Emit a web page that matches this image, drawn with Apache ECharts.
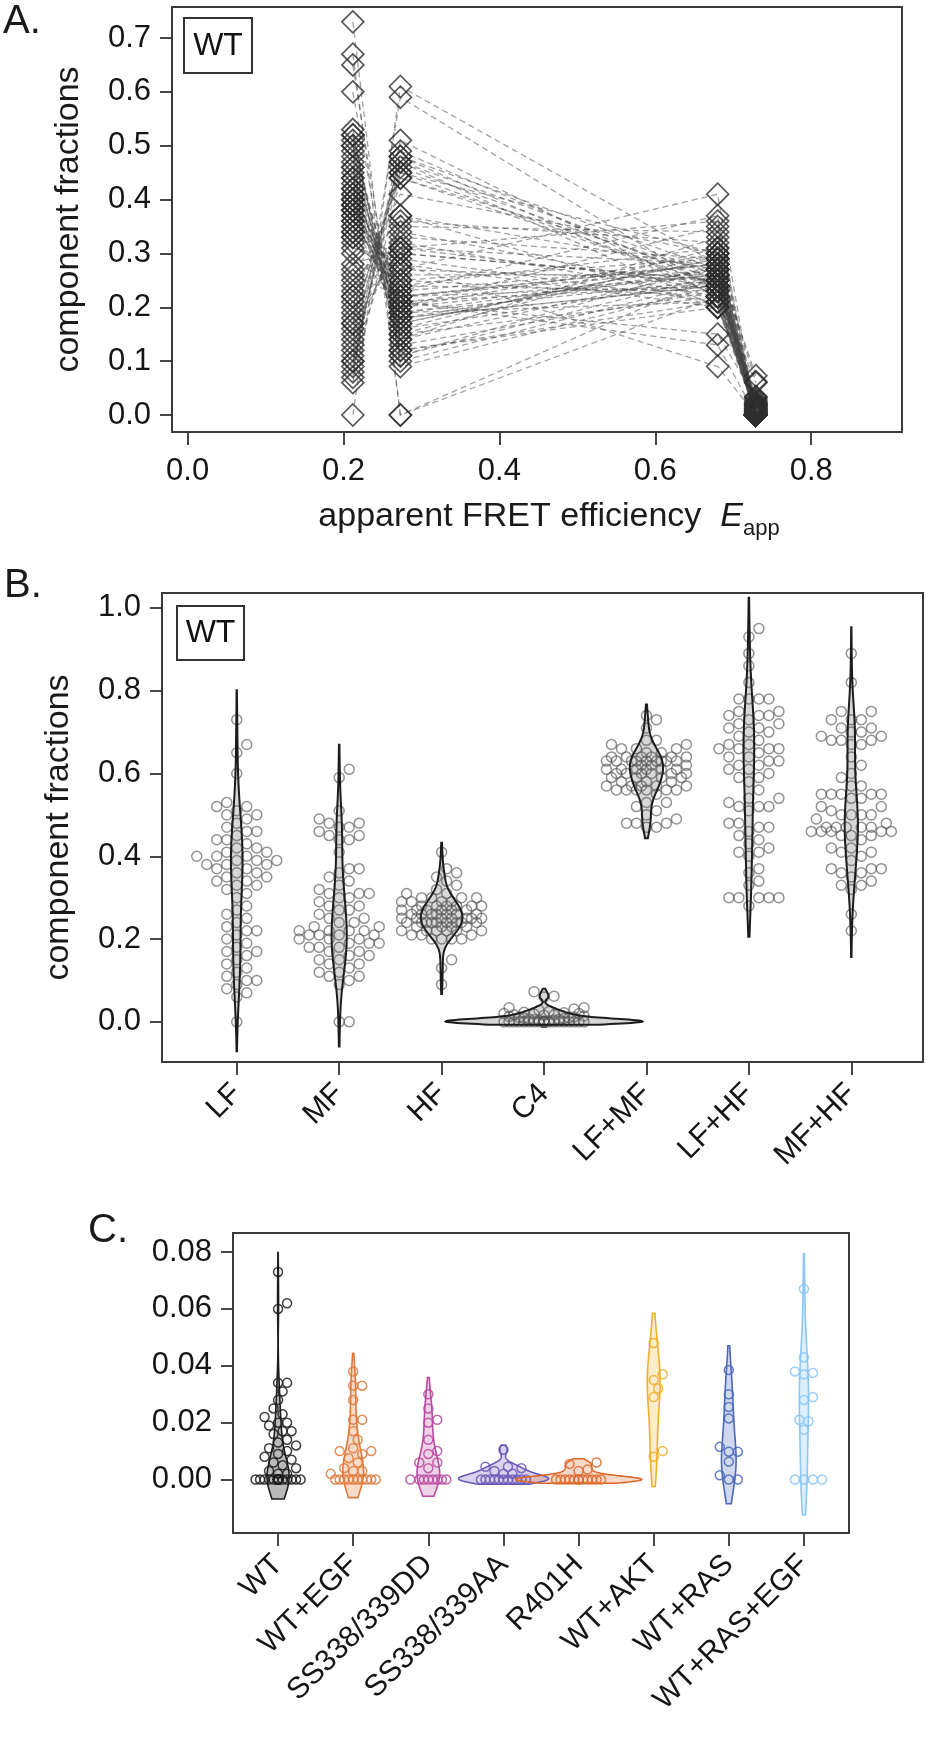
<!DOCTYPE html>
<html>
<head>
<meta charset="utf-8">
<script src="https://cdn.jsdelivr.net/npm/echarts@6/dist/echarts.min.js"></script>
<style>
html, body { margin: 0; padding: 0; background: #fff; }
#main { width: 927px; height: 1741px; }
</style>
</head>
<body>
<div id="main"></div>
<script>
// apparent FRET efficiency of the four components (LF, MF, HF, C4)
var eApp = [0.212, 0.273, 0.680, 0.729];

// per-molecule component fractions (WT)
var lf = [0.73, 0.67, 0.65, 0.60, 0.53, 0.52, 0.52, 0.51, 0.50, 0.50,
          0.49, 0.48, 0.47, 0.46, 0.46, 0.45, 0.44, 0.44, 0.43, 0.42,
          0.42, 0.41, 0.41, 0.40, 0.40, 0.40, 0.39, 0.39, 0.39, 0.38,
          0.38, 0.38, 0.37, 0.37, 0.36, 0.36, 0.35, 0.35, 0.34, 0.34,
          0.33, 0.33, 0.32, 0.31, 0.30, 0.28, 0.27, 0.26, 0.25, 0.24,
          0.23, 0.22, 0.22, 0.21, 0.20, 0.19, 0.18, 0.17, 0.17, 0.16,
          0.15, 0.14, 0.13, 0.12, 0.11, 0.10, 0.10, 0.09, 0.08, 0.07,
          0.06, 0.00];
var mf = [0.00, 0.00, 0.09, 0.11, 0.10, 0.15, 0.12, 0.14, 0.18, 0.11,
          0.13, 0.20, 0.16, 0.12, 0.19, 0.17, 0.15, 0.22, 0.18, 0.14,
          0.21, 0.19, 0.23, 0.16, 0.20, 0.24, 0.18, 0.21, 0.27, 0.17,
          0.22, 0.25, 0.20, 0.26, 0.22, 0.28, 0.21, 0.24, 0.19, 0.27,
          0.23, 0.30, 0.25, 0.29, 0.21, 0.31, 0.36, 0.22, 0.32, 0.37,
          0.30, 0.41, 0.34, 0.28, 0.44, 0.33, 0.45, 0.31, 0.47, 0.31,
          0.46, 0.48, 0.35, 0.48, 0.45, 0.37, 0.47, 0.49, 0.51, 0.59,
          0.44, 0.61];
var hf = [0.22, 0.26, 0.24, 0.26, 0.25, 0.30, 0.21, 0.27, 0.24, 0.28,
          0.23, 0.26, 0.31, 0.20, 0.25, 0.29, 0.22, 0.27, 0.24, 0.33,
          0.26, 0.21, 0.28, 0.25, 0.30, 0.23, 0.27, 0.15, 0.25, 0.29,
          0.24, 0.22, 0.35, 0.26, 0.28, 0.20, 0.24, 0.31, 0.27, 0.41,
          0.37, 0.25, 0.29, 0.21, 0.13, 0.24, 0.32, 0.28, 0.22, 0.27,
          0.25, 0.30, 0.23, 0.09, 0.26, 0.29, 0.24, 0.36, 0.20, 0.28,
          0.25, 0.27, 0.34, 0.22, 0.30, 0.20, 0.26, 0.24, 0.22, 0.23,
          0.24, 0.28];
var c4 = [0, 0.012, 0, 0.002, 0, 0.020, 0, 0, 0.034, 0,
          0.005, 0, 0, 0.017, 0, 0.062, 0, 0, 0.009, 0,
          0.023, 0, 0.002, 0, 0.014, 0, 0, 0.031, 0, 0.007,
          0, 0.019, 0, 0, 0.073, 0, 0.011, 0, 0.025, 0,
          0, 0.016, 0, 0.004, 0, 0.028, 0, 0.010, 0, 0.020,
          0, 0, 0.060, 0, 0.013, 0, 0.003, 0, 0.034, 0,
          0.017, 0, 0.006, 0, 0, 0.022, 0, 0.008, 0, 0,
          0, 0];

// panel C: C4 fraction per construct
var c4WtEgf = [0.038, 0.033, 0.033, 0.028, 0.021, 0.021, 0.017, 0.014, 0.011, 0.010,
               0.010, 0.009, 0.0075, 0.006, 0.004, 0.003, 0.003, 0.002,
               0, 0, 0, 0, 0, 0, 0, 0, 0, 0];
var c4DD = [0.030, 0.025, 0.021, 0.020, 0.014, 0.010, 0.009, 0.006, 0.006, 0.004,
            0, 0, 0, 0, 0, 0, 0, 0];
var c4AA = [0.0105, 0.0045, 0.0045, 0.004, 0.003, 0.002, 0.002,
            0, 0, 0, 0, 0, 0, 0, 0, 0, 0, 0];
var c4R401H = [0.006, 0.0055, 0.0035, 0.003, 0, 0, 0, 0, 0, 0, 0, 0, 0, 0, 0, 0];
var c4Akt = [0.048, 0.037, 0.035, 0.032, 0.029, 0.010, 0.008];
var c4Ras = [0.0385, 0.030, 0.0255, 0.0215, 0.0115, 0.0098, 0.0098, 0.0063, 0.0015, 0, 0];
var c4RasEgf = [0.067, 0.043, 0.038, 0.0375, 0.037, 0.029, 0.028, 0.021, 0.0205, 0.0175,
                0, 0, 0, 0];

var catB = ["LF", "MF", "HF", "C4", "LF+MF", "LF+HF", "MF+HF"];
var catC = ["WT", "WT+EGF", "SS338/339DD", "SS338/339AA", "R401H", "WT+AKT", "WT+RAS", "WT+RAS+EGF"];

var ticksAx = [0, 0.2, 0.4, 0.6, 0.8];
var ticksAy = [0, 0.1, 0.2, 0.3, 0.4, 0.5, 0.6, 0.7];
var ticksBy = [0, 0.2, 0.4, 0.6, 0.8, 1.0];
var ticksCy = [0, 0.02, 0.04, 0.06, 0.08];

var colC = ["#1c1c1c", "#e07a3c", "#b94aa0", "#6c58b8", "#dc6a2c", "#eeb02c", "#4a67bc", "#8cc6f2"];
var fillC = ["rgba(100,100,100,0.45)", "rgba(236,150,100,0.35)", "rgba(200,110,180,0.3)",
             "rgba(130,110,200,0.3)", "rgba(230,130,80,0.3)", "rgba(245,200,100,0.35)",
             "rgba(100,125,200,0.3)", "rgba(160,210,245,0.35)"];

function sumOf(a, b) {
    return a.map(function(v, i) { return +(v + b[i]).toFixed(4); });
}
var groupsB = [lf, mf, hf, c4, sumOf(lf, mf), sumOf(lf, hf), sumOf(mf, hf)];
var groupsC = [c4, c4WtEgf, c4DD, c4AA, c4R401H, c4Akt, c4Ras, c4RasEgf];

// layout
var FONT = "Liberation Sans";
var gA = { left: 172, top: 7, width: 730, height: 425, xmin: -0.02, xmax: 0.9165, ymin: -0.0316, ymax: 0.7576 };
var gB = { left: 162, top: 593, width: 761, height: 469, xmin: 0.27, xmax: 7.7, ymin: -0.097, ymax: 1.036 };
var gC = { left: 233, top: 1233, width: 616, height: 300, xmin: 0.4, xmax: 8.6, ymin: -0.0188, ymax: 0.0867 };

// gaussian kernel density, Scott bandwidth, extended one bandwidth past the data
function kde(vals) {
    var n = vals.length;
    var mean = vals.reduce(function(a, b) { return a + b; }, 0) / n;
    var sd = Math.sqrt(vals.reduce(function(a, b) { return a + (b - mean) * (b - mean); }, 0) / (n - 1));
    var bw = 1.06 * sd * Math.pow(n, -0.2);
    var lo = Math.min.apply(null, vals) - bw, hi = Math.max.apply(null, vals) + bw;
    var pts = [];
    for (var k = 0; k <= 120; k++) {
        var y = lo + (hi - lo) * k / 120, d = 0;
        for (var i = 0; i < n; i++) {
            var u = (y - vals[i]) / bw;
            d += Math.exp(-0.5 * u * u);
        }
        pts.push([y, d / (n * bw * Math.sqrt(2 * Math.PI))]);
    }
    return pts;
}

// simple beeswarm: offsets in px, points sorted by value
function swarm(vals, pxY, d, maxHalf) {
    var order = vals.map(function(v, i) { return i; }).sort(function(a, b) { return vals[a] - vals[b]; });
    var placed = [], out = [];
    var step = d / 2, kMax = Math.floor(maxHalf / step);
    order.forEach(function(i) {
        var y = vals[i] * pxY, best = 0, bestGap = -1;
        for (var k = 0; k <= 2 * kMax; k++) {
            var cand = (k % 2 ? 1 : -1) * Math.ceil(k / 2) * step;
            var gap = Infinity;
            for (var j = 0; j < placed.length; j++) {
                var dx = placed[j][0] - cand, dy = placed[j][1] - y;
                if (Math.abs(dy) < d) gap = Math.min(gap, Math.sqrt(dx * dx + dy * dy));
            }
            if (gap >= d) { best = cand; break; }
            if (gap > bestGap) { bestGap = gap; best = cand; }
        }
        placed.push([best, y]);
        out[i] = best;
    });
    return out;
}

function pointData(groups, g, d, maxHalf, colors) {
    var pxY = g.height / (g.ymax - g.ymin), pxX = g.width / (g.xmax - g.xmin);
    var data = [];
    groups.forEach(function(vals, gi) {
        var off = swarm(vals, pxY, d, maxHalf);
        vals.forEach(function(v, i) {
            var item = { value: [gi + 1 + off[i] / pxX, v] };
            if (colors) item.itemStyle = { borderColor: colors[gi] };
            data.push(item);
        });
    });
    return data;
}

function violinSeries(groups, idx, widthPerDens, fills, strokes, lw, part, z) {
    var shapes = groups.map(kde);
    return {
        type: "custom", xAxisIndex: idx, yAxisIndex: idx, z: z, silent: true,
        data: groups.map(function(v, i) { return [i + 1, i]; }),
        renderItem: function(params, api) {
            var xc = api.value(0), gi = api.value(1), s = shapes[gi];
            var right = s.map(function(p) { return api.coord([xc + p[1] * widthPerDens, p[0]]); });
            var left = s.slice().reverse().map(function(p) { return api.coord([xc - p[1] * widthPerDens, p[0]]); });
            return {
                type: "polygon",
                shape: { points: right.concat(left) },
                style: part === "fill"
                    ? { fill: fills[gi], stroke: null }
                    : { fill: null, stroke: strokes[gi], lineWidth: lw }
            };
        }
    };
}

function yAxisOf(idx, g, ticks, digits, name) {
    return {
        type: "value", gridIndex: idx, min: g.ymin, max: g.ymax,
        name: name || "", nameLocation: "middle", nameGap: 86, nameRotate: 90,
        nameTextStyle: { fontSize: 34, color: "#1a1a1a", fontFamily: FONT },
        axisLine: { show: false, onZero: false },
        splitLine: { show: false },
        axisTick: { show: true, inside: false, length: 12, customValues: ticks,
                    lineStyle: { color: "#333", width: 1.8 } },
        axisLabel: { customValues: ticks, margin: 21, fontSize: 31, color: "#151515", fontFamily: FONT,
                     formatter: function(v) { return v.toFixed(digits); } }
    };
}

function catAxisOf(idx, g, cats) {
    var vals = cats.map(function(c, i) { return i + 1; });
    return {
        type: "value", gridIndex: idx, min: g.xmin, max: g.xmax,
        axisLine: { show: false, onZero: false },
        splitLine: { show: false },
        axisTick: { show: true, inside: false, length: 13, customValues: vals,
                    lineStyle: { color: "#333", width: 1.8 } },
        axisLabel: { customValues: vals, rotate: 45, margin: 27, fontSize: 30, color: "#151515", fontFamily: FONT,
                     formatter: function(v) { return cats[Math.round(v) - 1]; } }
    };
}

function gridOf(g) {
    return { left: g.left, top: g.top, width: g.width, height: g.height,
             show: true, borderColor: "#3a3a3a", borderWidth: 2, backgroundColor: "transparent" };
}

var chart = echarts.init(document.getElementById("main"), null, { renderer: "canvas" });

var diamonds = [];
[lf, mf, hf, c4].forEach(function(arr, k) {
    arr.forEach(function(v) { diamonds.push([eApp[k], v]); });
});

var option = {
    animation: false,
    backgroundColor: "#fff",
    textStyle: { fontFamily: FONT },
    grid: [gridOf(gA), gridOf(gB), gridOf(gC)],
    xAxis: [
        {
            type: "value", gridIndex: 0, min: gA.xmin, max: gA.xmax,
            name: "{a|apparent FRET efficiency  }{e|E}{s|app}",
            nameLocation: "middle", nameGap: 62,
            nameTextStyle: {
                fontFamily: FONT, color: "#1a1a1a", padding: [0, 0, 0, 24],
                rich: {
                    a: { fontSize: 34, fontFamily: FONT, color: "#1a1a1a", verticalAlign: "middle" },
                    e: { fontSize: 34, fontFamily: FONT, color: "#1a1a1a", fontStyle: "italic", verticalAlign: "middle" },
                    s: { fontSize: 22, fontFamily: FONT, color: "#1a1a1a", verticalAlign: "middle", padding: [24, 0, 0, 0] }
                }
            },
            axisLine: { show: false, onZero: false },
            splitLine: { show: false },
            axisTick: { show: true, inside: false, length: 13, customValues: ticksAx,
                        lineStyle: { color: "#333", width: 1.8 } },
            axisLabel: { customValues: ticksAx, margin: 24, fontSize: 31, color: "#151515", fontFamily: FONT,
                         formatter: function(v) { return v.toFixed(1); } }
        },
        catAxisOf(1, gB, catB),
        catAxisOf(2, gC, catC)
    ],
    yAxis: [
        yAxisOf(0, gA, ticksAy, 1, "component fractions"),
        yAxisOf(1, gB, ticksBy, 1, "component fractions"),
        yAxisOf(2, gC, ticksCy, 2)
    ],
    graphic: [
        { type: "text", left: 3, top: 2, style: { text: "A.", fontSize: 40, fontFamily: FONT, fill: "#1a1a1a" } },
        { type: "text", left: 4, top: 566, style: { text: "B.", fontSize: 40, fontFamily: FONT, fill: "#1a1a1a" } },
        { type: "text", left: 88, top: 1211, style: { text: "C.", fontSize: 40, fontFamily: FONT, fill: "#1a1a1a" } },
        {
            type: "group", left: 183, top: 17,
            children: [
                { type: "rect", shape: { x: 0, y: 0, width: 68, height: 55 }, style: { fill: "#fff", stroke: "#333", lineWidth: 2 } },
                { type: "text", x: 34, y: 28, style: { text: "WT", fontSize: 32, fontFamily: FONT, fill: "#111", align: "center", verticalAlign: "middle" } }
            ]
        },
        {
            type: "group", left: 176, top: 605,
            children: [
                { type: "rect", shape: { x: 0, y: 0, width: 67, height: 54 }, style: { fill: "#fff", stroke: "#333", lineWidth: 2 } },
                { type: "text", x: 33.5, y: 27.5, style: { text: "WT", fontSize: 32, fontFamily: FONT, fill: "#111", align: "center", verticalAlign: "middle" } }
            ]
        }
    ],
    series: [
        // panel A: one dashed polyline per molecule
        {
            type: "custom", xAxisIndex: 0, yAxisIndex: 0, z: 1, silent: true,
            data: lf.map(function(v, i) { return [lf[i], mf[i], hf[i], c4[i]]; }),
            renderItem: function(params, api) {
                var pts = [0, 1, 2, 3].map(function(k) { return api.coord([eApp[k], api.value(k)]); });
                return {
                    type: "polyline", shape: { points: pts },
                    style: { fill: null, stroke: "rgba(70,70,70,0.5)", lineWidth: 1.3, lineDash: [6, 4] }
                };
            }
        },
        {
            type: "scatter", xAxisIndex: 0, yAxisIndex: 0, z: 2, silent: true,
            symbol: "diamond", symbolSize: [22, 22],
            itemStyle: { color: "rgba(0,0,0,0)", borderColor: "#2e2e2e", borderWidth: 1.7 },
            data: diamonds
        },
        // panel B
        violinSeries(groupsB, 1, 0.0235, groupsB.map(function() { return "rgba(140,140,140,0.35)"; }), null, 2, "fill", 1),
        {
            type: "scatter", xAxisIndex: 1, yAxisIndex: 1, z: 2, silent: true,
            symbol: "circle", symbolSize: 10,
            itemStyle: { color: "rgba(0,0,0,0)", borderColor: "rgba(85,85,85,0.8)", borderWidth: 1.5 },
            data: pointData(groupsB, gB, 10, 40)
        },
        violinSeries(groupsB, 1, 0.0235, null, groupsB.map(function() { return "#1c1c1c"; }), 2, "line", 3),
        // panel C
        violinSeries(groupsC, 2, 0.0036, fillC, null, 1.6, "fill", 1),
        {
            type: "scatter", xAxisIndex: 2, yAxisIndex: 2, z: 2, silent: true,
            symbol: "circle", symbolSize: 9,
            itemStyle: { color: "rgba(0,0,0,0)", borderWidth: 1.5, opacity: 0.85 },
            data: pointData(groupsC, gC, 9, 24, colC)
        },
        violinSeries(groupsC, 2, 0.0036, null, colC, 1.6, "line", 3)
    ]
};
chart.setOption(option);
</script>
</body>
</html>
